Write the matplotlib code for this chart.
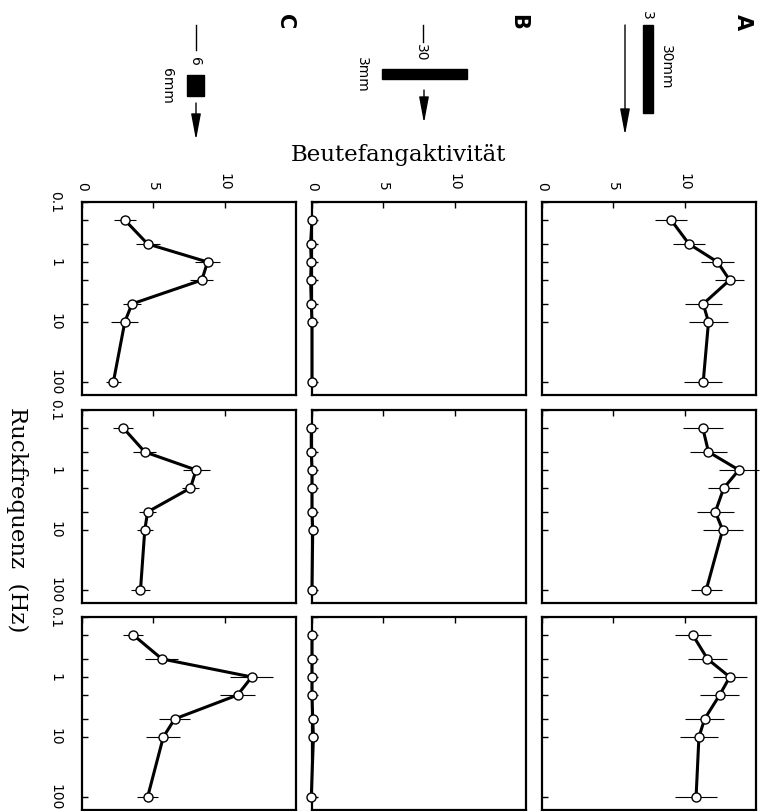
import numpy as np
import matplotlib
matplotlib.use("Agg")
import matplotlib.pyplot as plt
from matplotlib.patches import Rectangle
from matplotlib.ticker import FixedLocator, NullFormatter

plt.rcParams["font.family"] = ["Liberation Sans Narrow", "DejaVu Sans"]

# stimulus frequencies (Hz) and activity per panel (columns C, B, A; rows top to bottom)
freqs = [0.2, 0.5, 1, 2, 5, 10, 100]
freq_ticks = [0.1, 1, 10, 100]
freq_labels = ["0.1", "1", "10", "100"]
act_ticks = [0, 5, 10]
act_labels = ["0", "5", "10"]

C1 = [3.0, 4.6, 8.8, 8.4, 3.5, 3.0, 2.2]
C1_err = [0.75, 0.85, 0.9, 0.8, 0.65, 0.95, 0.5]
C2 = [2.9, 4.4, 8.0, 7.6, 4.6, 4.4, 4.1]
C2_err = [0.7, 0.8, 0.95, 0.6, 0.6, 0.55, 0.65]
C3 = [3.6, 5.6, 11.9, 10.9, 6.5, 5.7, 4.6]
C3_err = [0.7, 1.15, 1.5, 1.2, 1.1, 1.2, 0.75]

B1 = [0.0, -0.1, -0.05, -0.1, -0.05, 0.0, 0.0]
B1_err = [0.1, 0.1, 0.1, 0.1, 0.1, 0.1, 0.1]
B2 = [-0.05, -0.05, 0.0, 0.0, 0.0, 0.05, 0.0]
B2_err = [0.1, 0.1, 0.1, 0.1, 0.1, 0.1, 0.1]
B3 = [0.0, 0.0, 0.0, 0.0, 0.05, 0.1, -0.05]
B3_err = [0.1, 0.1, 0.1, 0.1, 0.1, 0.1, 0.1]

A1 = [9.05, 10.3, 12.3, 13.15, 11.3, 11.67, 11.3]
A1_err = [1.1, 1.1, 1.15, 1.0, 1.3, 1.4, 1.35]
A2 = [11.27, 11.67, 13.8, 12.74, 12.15, 12.66, 11.51]
A2_err = [1.4, 1.3, 1.4, 1.1, 1.3, 1.4, 1.1]
A3 = [10.57, 11.6, 13.16, 12.45, 11.4, 11.0, 10.8]
A3_err = [1.27, 1.4, 1.2, 1.35, 1.38, 1.33, 1.5]

columns = [
    [(C1, C1_err), (C2, C2_err), (C3, C3_err)],
    [(B1, B1_err), (B2, B2_err), (B3, B3_err)],
    [(A1, A1_err), (A2, A2_err), (A3, A3_err)],
]

W, H = 762, 811
fig = plt.figure(figsize=(W / 100, H / 100), dpi=100)

col_left = [82, 312, 542]
row_top = [202, 410, 617]
pw, ph = 214, 193

for ci, col in enumerate(columns):
    for ri, (vals, err) in enumerate(col):
        x0, y0 = col_left[ci], row_top[ri]
        ax = fig.add_axes([x0 / W, (H - y0 - ph) / H, pw / W, ph / H])
        ax.errorbar(vals, freqs, xerr=err, fmt="none", ecolor="black",
                    elinewidth=0.8, capsize=0, zorder=2, clip_on=False)
        ax.plot(vals, freqs, "-o", color="black", lw=2.2, ms=6.5,
                mfc="white", mec="black", mew=1.0, zorder=3, clip_on=False)
        ax.set_yscale("log")
        ax.set_ylim(165, 0.1)
        ax.set_xlim(0, 15)
        ax.xaxis.set_ticks_position("top")
        ax.set_xticks(act_ticks)
        ax.set_xticklabels(act_labels)
        ax.yaxis.set_major_locator(FixedLocator(freq_ticks))
        ax.set_yticklabels(freq_labels)
        ax.yaxis.set_minor_locator(FixedLocator([0.2, 0.5, 2, 5]))
        ax.yaxis.set_minor_formatter(NullFormatter())
        ax.tick_params(axis="x", direction="in", length=4, width=1,
                       labeltop=(ri == 0), labelbottom=False,
                       labelrotation=-90, pad=8, labelsize=10)
        ax.tick_params(axis="y", which="both", direction="in", length=4,
                       width=1, labelleft=(ci == 0), labelrotation=-90,
                       pad=14, labelsize=10)
        for lbl in ax.get_yticklabels():
            lbl.set_verticalalignment("center")
        for s in ax.spines.values():
            s.set_linewidth(1.6)

# overlay in pixel coordinates for labels and stimulus sketches
ov = fig.add_axes([0, 0, 1, 1])
ov.set_xlim(0, W)
ov.set_ylim(H, 0)
ov.axis("off")

ov.text(398, 155, "Beutefangaktivität", family="DejaVu Serif", fontsize=16.5,
        ha="center", va="center")
ov.text(17, 520, "Ruckfrequenz  (Hz)", family="DejaVu Serif", fontsize=16.5,
        rotation=-90, ha="center", va="center")

for lab, x in [("A", 743), ("B", 518), ("C", 285)]:
    ov.text(x, 22, lab, family="DejaVu Sans", fontsize=15, fontweight="bold",
            rotation=-90, ha="center", va="center")


def arrow(x, y_start, y_end):
    ov.annotate("", xy=(x, y_end), xytext=(x, y_start),
                arrowprops=dict(arrowstyle="-|>,head_length=1.6,head_width=0.3",
                                lw=1.0, color="black", shrinkA=0, shrinkB=0))


# A: 3 x 30 mm bar
ov.add_patch(Rectangle((643, 25), 10, 88, color="black"))
ov.text(647, 15, "3", fontsize=10, rotation=-90, ha="center", va="center")
ov.text(666, 67, "30mm", fontsize=10, rotation=-90, ha="center", va="center")
arrow(625, 25, 135)

# B: 30 x 3 mm bar
ov.plot([423, 423], [25, 42], color="black", lw=1.0)
ov.text(421, 53, "30", fontsize=10, rotation=-90, ha="center", va="center")
ov.add_patch(Rectangle((382, 69), 85, 10, color="black"))
ov.text(362, 75, "3mm", fontsize=10, rotation=-90, ha="center", va="center")
arrow(424, 90, 123)

# C: 6 x 6 mm square
ov.plot([196, 196], [25, 50], color="black", lw=1.0)
ov.text(195, 61, "6", fontsize=10, rotation=-90, ha="center", va="center")
ov.add_patch(Rectangle((187, 75), 17, 21, color="black"))
ov.text(167, 86, "6mm", fontsize=10, rotation=-90, ha="center", va="center")
arrow(196, 103, 140)

fig.savefig("out.png", dpi=100)
